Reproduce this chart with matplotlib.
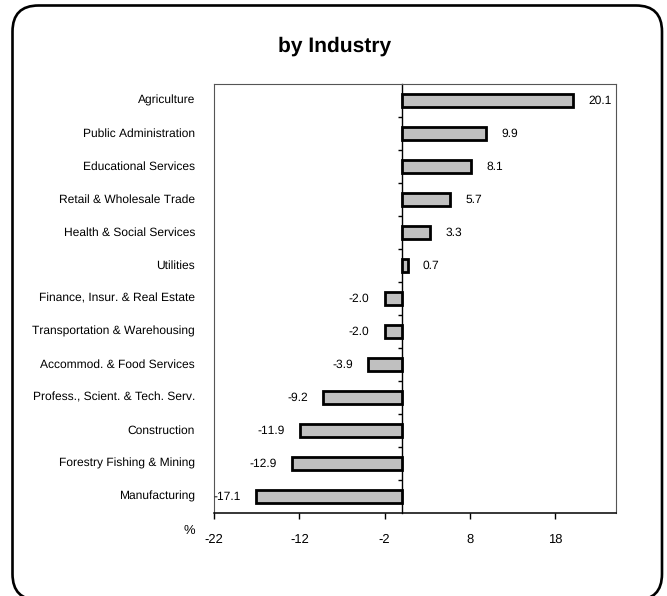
import numpy as np
import matplotlib
matplotlib.use("Agg")
import matplotlib.pyplot as plt
from matplotlib.patches import FancyBboxPatch
from matplotlib.transforms import IdentityTransform, blended_transform_factory

plt.rcParams['font.family'] = ['Liberation Sans', 'DejaVu Sans']
plt.rcParams['text.hinting'] = 'no_hinting'
plt.rcParams['text.hinting_factor'] = 1

# ── datos ────────────────────────────────────────────
industries = [
    "Agriculture",
    "Public Administration",
    "Educational Services",
    "Retail & Wholesale Trade",
    "Health & Social Services",
    "Utilities",
    "Finance, Insur. & Real Estate",
    "Transportation & Warehousing",
    "Accommod. & Food Services",
    "Profess., Scient. & Tech. Serv.",
    "Construction",
    "Forestry Fishing & Mining",
    "Manufacturing",
]
values = [20.1, 9.9, 8.1, 5.7, 3.3, 0.7, -2.0, -2.0, -3.9, -9.2, -11.9, -12.9, -17.1]
xticks = [-22, -12, -2, 8, 18]

# ── figura ───────────────────────────────────────────
W, H = 667, 596
fig = plt.figure(figsize=(W / 100, H / 100), dpi=100)
fig.patch.set_facecolor('white')

# marco redondeado (en pixeles)
frame = FancyBboxPatch((12.5, -4), 649.5, 594.5,
                       boxstyle="round,pad=0,rounding_size=26",
                       transform=IdentityTransform(),
                       facecolor='none', edgecolor='black', linewidth=1.9)
fig.patches.append(frame)

ax = fig.add_axes([214 / W, 1 - 513 / H, (616 - 214) / W, (513 - 84) / H])

y = np.arange(len(industries))[::-1]
ax.barh(y, values, height=0.42, color='#c0c0c0', edgecolor='black',
        linewidth=2.0, zorder=3)

xmin, xmax = -22, 25.1
ax.set_xlim(xmin, xmax)
ax.set_ylim(-0.5, len(industries) - 0.5)

ax.set_xticks(xticks)
ax.set_xticklabels([str(t) for t in xticks], fontsize=9.5)
ax.tick_params(axis='x', direction='out', length=4, width=1, pad=11, colors='black')
ax.set_yticks([])

for side in ['top', 'right', 'left']:
    ax.spines[side].set_linewidth(0.8)
    ax.spines[side].set_color('#555555')
ax.spines['bottom'].set_linewidth(1.1)
ax.spines['bottom'].set_color('black')

# eje vertical en cero con marcas entre categorias
loc0 = (0 - xmin) / (xmax - xmin)
sec = ax.secondary_yaxis(loc0)
sec.set_yticks(np.arange(len(industries) - 1) + 0.5)
sec.set_yticklabels([])
sec.tick_params(direction='out', length=3, width=1)
sec.spines['left'].set_linewidth(1.0)
sec.spines['left'].set_color('black')

# etiquetas de categoria
trans = blended_transform_factory(fig.transFigure, ax.transData)
for yy, name in zip(y, industries):
    ax.text(195 / W, yy, name, transform=trans, ha='right', va='center',
            fontsize=8.4, color='black')

# valores
for yy, v in zip(y, values):
    if v >= 0:
        ax.annotate(f"{v:.1f}", xy=(v, yy), xytext=(11, 0),
                    textcoords='offset points', ha='left', va='center',
                    fontsize=8.4)
    else:
        ax.annotate(f"{v:.1f}", xy=(v, yy), xytext=(-11, 0),
                    textcoords='offset points', ha='right', va='center',
                    fontsize=8.4)

fig.text(335 / W, 1 - 46 / H, "by Industry", ha='center', va='center',
         fontsize=15, fontweight='bold')
fig.text(189 / W, 1 - 531 / H, "%", ha='center', va='center', fontsize=9.5)

fig.savefig("out.png", dpi=100, facecolor='white')
